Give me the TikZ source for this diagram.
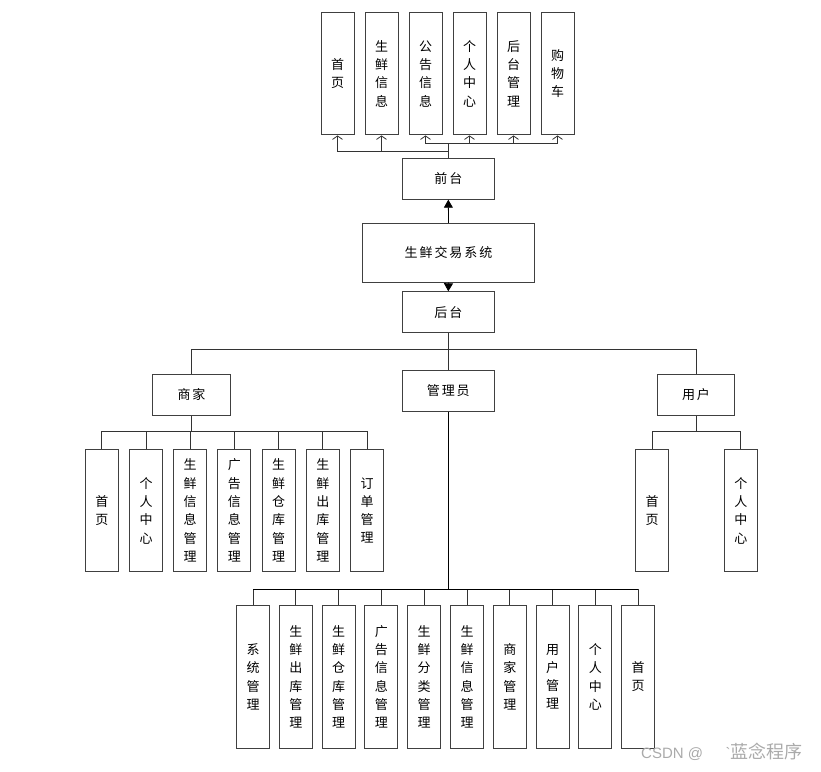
\documentclass[tikz,border=0pt]{standalone}
\usepackage{fontspec}
\newfontfamily\cjk{Noto Sans CJK SC}
\newfontfamily\cjkwide[LetterSpace=15]{Noto Sans CJK SC}
\newfontfamily\wmlatin{Liberation Sans}
\usetikzlibrary{arrows.meta, positioning}
\definecolor{boxline}{RGB}{64,64,64}
\definecolor{wmark}{RGB}{170,170,170}
\tikzset{
  hbox/.style={draw=boxline,line width=1pt,minimum width=92pt,minimum height=41pt,inner sep=0pt,font=\cjkwide\fontsize{13}{15}\selectfont},
  vbox/.style={draw=boxline,line width=1pt,minimum width=33pt,minimum height=122.5pt,inner sep=0pt,align=center,font=\cjk\fontsize{13}{18.3}\selectfont},
  tallbox/.style={vbox,minimum height=143pt},
  link/.style={draw=black!80,line width=0.8pt},
  barb/.style={link,-{Straight Barb[length=3.5pt,width=10pt]}},
  solidtip/.style={draw=black,line width=0.8pt,-{Triangle[length=8pt,width=9pt]}},
  trunk/.style={draw=black,line width=1.6pt}
}

\begin{document}
\begin{tikzpicture}[x=1pt,y=-1pt]
  \useasboundingbox (0,0) rectangle (821,771);
  \node[vbox] (f1) at (337.5,73.7) {首\\页};
  \node[vbox, right=10pt of f1] (f2) {生\\鲜\\信\\息};
  \node[vbox, right=10pt of f2] (f3) {公\\告\\信\\息};
  \node[vbox, right=10pt of f3] (f4) {个\\人\\中\\心};
  \node[vbox, right=10pt of f4] (f5) {后\\台\\管\\理};
  \node[vbox, right=10pt of f5] (f6) {购\\物\\车};
  \node[hbox] (qiantai) at (448.3,178.7) {前台};
  \node[hbox, minimum width=171.6pt, minimum height=58.7pt] (system) at (448.5,252.7) {生鲜交易系统};
  \node[hbox] (houtai) at (448.3,312.3) {后台};
  \node[hbox, minimum width=77.6pt] (shangjia) at (191.5,394.8) {商家};
  \node[hbox] (admin) at (448.3,390.5) {管理员};
  \node[hbox, minimum width=77.6pt] (yonghu) at (696,395) {用户};

  \node[vbox] (m1) at (101.8,510.5) {首\\页};
  \node[vbox, right=10.2pt of m1] (m2) {个\\人\\中\\心};
  \node[vbox, right=10.2pt of m2] (m3) {生\\鲜\\信\\息\\管\\理};
  \node[vbox, right=10.2pt of m3] (m4) {广\\告\\信\\息\\管\\理};
  \node[vbox, right=10.2pt of m4] (m5) {生\\鲜\\仓\\库\\管\\理};
  \node[vbox, right=10.2pt of m5] (m6) {生\\鲜\\出\\库\\管\\理};
  \node[vbox, right=10.2pt of m6] (m7) {订\\单\\管\\理};

  \node[vbox] (u1) at (652.2,510.7) {首\\页};
  \node[vbox, right=54.6pt of u1] (u2) {个\\人\\中\\心};

  \node[tallbox] (a1) at (253,676.8) {系\\统\\管\\理};
  \node[tallbox, right=8.8pt of a1] (a2) {生\\鲜\\出\\库\\管\\理};
  \node[tallbox, right=8.8pt of a2] (a3) {生\\鲜\\仓\\库\\管\\理};
  \node[tallbox, right=8.8pt of a3] (a4) {广\\告\\信\\息\\管\\理};
  \node[tallbox, right=8.8pt of a4] (a5) {生\\鲜\\分\\类\\管\\理};
  \node[tallbox, right=8.8pt of a5] (a6) {生\\鲜\\信\\息\\管\\理};
  \node[tallbox, right=8.8pt of a6] (a7) {商\\家\\管\\理};
  \node[tallbox, right=8.8pt of a7] (a8) {用\\户\\管\\理};
  \node[tallbox, right=8.8pt of a8] (a9) {个\\人\\中\\心};
  \node[tallbox, right=8.8pt of a9] (a10) {首\\页};

  \coordinate (topR) at (448.3,143);
  \coordinate (topL) at (448.3,151);
  \coordinate (hub) at (448.3,349.3);
  \coordinate (mhub) at (191.5,431.7);
  \coordinate (uhub) at (696,431.7);
  \coordinate (ahub) at (448.3,589.3);

  \draw[link] (qiantai.north) -- (topR);
  \foreach \n in {1,2} \draw[barb] (topL) -| (f\n.south);
  \foreach \n in {3,...,6} \draw[barb] (topR) -| (f\n.south);
  \draw[solidtip] (system.north) -- (qiantai.south);
  \draw[solidtip] (system.south) -- (houtai.north);
  \draw[link] (houtai.south) -- (hub);
  \draw[link] (hub) -| (shangjia.north);
  \draw[link] (hub) -| (yonghu.north);
  \draw[link] (hub) -- (admin.north);
  \draw[link] (shangjia.south) -- (mhub);
  \foreach \n in {1,...,7} \draw[link] (mhub) -| (m\n.north);
  \draw[link] (yonghu.south) -- (uhub);
  \foreach \n in {1,2} \draw[link] (uhub) -| (u\n.north);
  \foreach \n in {1,...,10} \draw[link] (ahub) -| (a\n.north);
  \draw[trunk] (admin.south) -- (ahub);
  \draw[draw=black,line width=1.2pt] (ahub -| a1.north) -- (ahub -| a10.north);

  \node[text=wmark, anchor=west, inner sep=0pt] (wm) at (641,752) {\wmlatin\fontsize{15}{17}\selectfont CSDN @\hspace{1.5em}\textasciigrave\cjk\fontsize{18}{20}\selectfont 蓝念程序};
\end{tikzpicture}
\end{document}
